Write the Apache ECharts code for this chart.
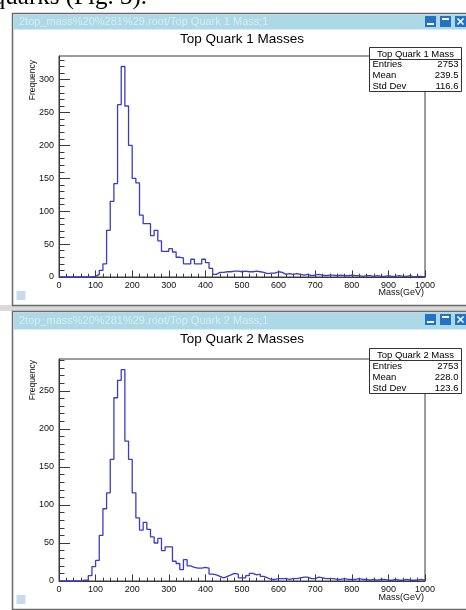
<!DOCTYPE html>
<html><head><meta charset="utf-8">
<script src="https://cdn.jsdelivr.net/npm/echarts@6/dist/echarts.min.js"></script>
<style>html,body{margin:0;padding:0;background:#fff}#c{width:466px;height:610px}</style>
</head><body><div id="c"></div>
<script>
// ---- data ----
const binStart = 0;
const binWidth = 10;
const mass1Counts = [
  0,0,0,0,0,0,0,0,0,1,
  4,10,20,71,115,142,262,320,260,200,
  150,143,94,81,81,63,71,55,39,39,
  43,38,30,29,20,20,27,20,20,27,
  22,13,4,7,7,8,8,9,9,8,
  9,8,8,9,8,7,5,6,6,8,
  7,4,5,4,5,4,3,4,2,3,
  4,3,2,3,3,2,3,2,2,3,
  2,2,1,2,2,1,2,1,1,2,
  1,1,2,1,1,2,0,1,1,0
];
const mass2Counts = [
  0,0,0,0,0,0,1,1,7,19,
  27,60,95,116,160,241,264,278,184,160,
  116,83,67,77,68,58,50,56,40,45,
  45,26,23,15,28,20,18,17,17,18,
  17,9,8,6,4,6,8,10,9,4,
  4,7,10,8,9,6,4,2,2,3,
  3,3,2,3,3,4,5,5,3,3,
  5,4,3,3,3,2,2,3,2,2,
  2,3,2,2,1,2,1,2,2,1,
  1,2,1,1,2,1,1,1,2,1
];
const xTickValues = [0,100,200,300,400,500,600,700,800,900,1000];
const y1TickValues = [0,50,100,150,200,250,300];
const y2TickValues = [0,50,100,150,200,250];
const y1Max = 336;
const y2Max = 292;
const histTitles = ['Top Quark 1 Masses', 'Top Quark 2 Masses'];
const statNames = ['Top Quark 1 Mass', 'Top Quark 2 Mass'];
const statLabels = ['Entries', 'Mean', 'Std Dev'];
const stats1Values = ['2753', '239.5', '116.6'];
const stats2Values = ['2753', '228.0', '123.6'];
const windowTitles = ['2top_mass%20%281%29.root/Top Quark 1 Mass;1', '2top_mass%20%281%29.root/Top Quark 2 Mass;1'];
const axisXName = 'Mass(GeV)';
const axisYName = 'Frequency';
const pageText = 'quarks (Fig. 3).';

// ---- build ----
const FONT = 'Liberation Sans, Arial, sans-serif';
const LINE = '#3b3bc6';
const AX = '#3a3a3a';

function stepData(counts) {
  const d = counts.map((c, i) => [binStart + i * binWidth, c]);
  d.push([binStart + counts.length * binWidth, counts[counts.length - 1]]);
  return d;
}
function minorVals(majors, yMax) {
  const step = (majors[1] - majors[0]) / 5;
  const out = [];
  for (let v = step; v < yMax; v += step) out.push(+v.toFixed(6));
  return out;
}
const plain = v => String(v);

const grids = [
  { left: 59, right: 41, top: 56, bottom: 333 },
  { left: 59, right: 41, top: 359, bottom: 29 }
].map(g => Object.assign(g, { show: true, borderColor: AX, borderWidth: 1, backgroundColor: 'transparent' }));

function xAxis(gi) {
  return {
    gridIndex: gi, type: 'value', min: xTickValues[0], max: xTickValues[xTickValues.length - 1], interval: 100,
    axisLine: { show: true, lineStyle: { color: AX, width: 1 } },
    axisTick: { show: true, inside: true, length: 6.6, lineStyle: { color: AX } },
    minorTick: { show: true, splitNumber: 5, length: 3.3, lineStyle: { color: AX } },
    splitLine: { show: false }, minorSplitLine: { show: false },
    axisLabel: { customValues: xTickValues, formatter: plain, fontSize: 9, color: '#111', margin: 4, fontFamily: FONT }
  };
}
function yAxes(gi, yMax, ticks) {
  return [{
    gridIndex: gi, type: 'value', min: 0, max: yMax, position: 'left',
    axisLine: { show: true, lineStyle: { color: AX, width: 1 } },
    axisTick: { show: true, inside: true, length: 11, customValues: ticks, lineStyle: { color: AX } },
    splitLine: { show: false },
    axisLabel: { customValues: ticks, formatter: plain, fontSize: 9, color: '#111', margin: 5, fontFamily: FONT }
  }, {
    gridIndex: gi, type: 'value', min: 0, max: yMax, position: 'left', offset: 0,
    axisLine: { show: false },
    axisTick: { show: true, inside: true, length: 5.5, customValues: minorVals(ticks, yMax), lineStyle: { color: AX } },
    splitLine: { show: false },
    axisLabel: { show: false }
  }];
}

function chrome(top, barH, bottom, wTitle) {
  const els = [];
  els.push({ type: 'rect', z: 1, shape: { x: 12.5, y: top + 0.5, width: 470, height: bottom - top }, style: { fill: 'none', stroke: '#6a6a6a', lineWidth: 1.5 } });
  els.push({ type: 'rect', z: 1, shape: { x: 13.5, y: top + 1.5, width: 460, height: barH }, style: { fill: '#add8e6' } });
  els.push({ type: 'text', z: 2, x: 19, y: top + 1.5 + barH / 2, style: { text: wTitle, fill: '#d6edf5', font: '11px ' + FONT, verticalAlign: 'middle' } });
  const bx = [425, 440, 455];
  bx.forEach((x, i) => {
    const y = top + 3;
    els.push({ type: 'rect', z: 2, shape: { x: x, y: y, width: 11, height: 11 }, style: { fill: '#2273c3' } });
    if (i === 0) els.push({ type: 'rect', z: 3, shape: { x: x + 2, y: y + 7, width: 7, height: 2 }, style: { fill: '#fff' } });
    if (i === 1) els.push({ type: 'rect', z: 3, shape: { x: x + 2, y: y + 2, width: 7, height: 2 }, style: { fill: '#fff' } });
    if (i === 2) {
      els.push({ type: 'line', z: 3, shape: { x1: x + 2.5, y1: y + 2.5, x2: x + 8.5, y2: y + 8.5 }, style: { stroke: '#fff', lineWidth: 1.6 } });
      els.push({ type: 'line', z: 3, shape: { x1: x + 8.5, y1: y + 2.5, x2: x + 2.5, y2: y + 8.5 }, style: { stroke: '#fff', lineWidth: 1.6 } });
    }
  });
  els.push({ type: 'rect', z: 2, shape: { x: 16.5, y: bottom - 14, width: 9, height: 9 }, style: { fill: '#c6d9ee' } });
  return els;
}

function statBox(top, bottom, headerLine, rowsY, name, values) {
  const x0 = 369.5, x1 = 461.5;
  const els = [];
  els.push({ type: 'rect', z: 100, shape: { x: x0, y: top, width: x1 - x0, height: bottom - top }, style: { fill: '#fff', stroke: '#333', lineWidth: 1 } });
  els.push({ type: 'line', z: 101, shape: { x1: x0, y1: headerLine, x2: x1, y2: headerLine }, style: { stroke: '#333', lineWidth: 1 } });
  els.push({ type: 'text', z: 101, x: (x0 + x1) / 2, y: (top + headerLine) / 2 + 0.5, style: { text: name, fill: '#000', font: '9.5px ' + FONT, align: 'center', verticalAlign: 'middle' } });
  statLabels.forEach((lab, i) => {
    els.push({ type: 'text', z: 101, x: x0 + 3, y: rowsY[i], style: { text: lab, fill: '#000', font: '9.5px ' + FONT, verticalAlign: 'middle' } });
    els.push({ type: 'text', z: 101, x: x1 - 3, y: rowsY[i], style: { text: values[i], fill: '#000', font: '9.5px ' + FONT, align: 'right', verticalAlign: 'middle' } });
  });
  return els;
}

function axisNames(yTop, xTitleY) {
  return [
    { type: 'text', z: 5, x: 33, y: yTop, rotation: Math.PI / 2, style: { text: axisYName, fill: '#111', font: '8.5px ' + FONT, align: 'right', verticalAlign: 'middle' } },
    { type: 'text', z: 5, x: 424, y: xTitleY, style: { text: axisXName, fill: '#111', font: '9px ' + FONT, align: 'right', verticalAlign: 'middle' } }
  ];
}

const graphics = [].concat(
  [{ type: 'text', z: 0, x: 147, y: -3, style: { text: pageText, fill: '#000', font: '25px Liberation Serif, serif', align: 'right', verticalAlign: 'middle' } }],
  [{ type: 'rect', z: 0, shape: { x: 0, y: 305, width: 466, height: 6 }, style: { fill: '#d9d9d9' } }],
  chrome(13, 15, 305, windowTitles[0]),
  chrome(311, 17, 609, windowTitles[1]),
  statBox(47.5, 91.5, 59.5, [64.5, 75.5, 86.5], statNames[0], stats1Values),
  statBox(348.5, 393.5, 360.5, [366, 377, 388.5], statNames[1], stats2Values),
  axisNames(60, 293),
  axisNames(360, 597.5)
);

const option = {
  animation: false,
  backgroundColor: '#fff',
  title: [
    { text: histTitles[0], left: 242, top: 32, padding: 0, textAlign: 'center', textStyle: { fontSize: 13.5, fontWeight: 'normal', color: '#000', fontFamily: FONT } },
    { text: histTitles[1], left: 242, top: 332, padding: 0, textAlign: 'center', textStyle: { fontSize: 13.5, fontWeight: 'normal', color: '#000', fontFamily: FONT } }
  ],
  grid: grids,
  xAxis: [xAxis(0), xAxis(1)],
  yAxis: [].concat(yAxes(0, y1Max, y1TickValues), yAxes(1, y2Max, y2TickValues)),
  series: [
    { type: 'line', xAxisIndex: 0, yAxisIndex: 0, step: 'end', showSymbol: false, symbol: 'none', data: stepData(mass1Counts), lineStyle: { color: LINE, width: 1.3 }, z: 3 },
    { type: 'line', xAxisIndex: 1, yAxisIndex: 2, step: 'end', showSymbol: false, symbol: 'none', data: stepData(mass2Counts), lineStyle: { color: LINE, width: 1.3 }, z: 3 }
  ],
  graphic: { elements: graphics }
};
const chart = echarts.init(document.getElementById('c'), null, { renderer: 'canvas' });
chart.setOption(option);
</script></body></html>
